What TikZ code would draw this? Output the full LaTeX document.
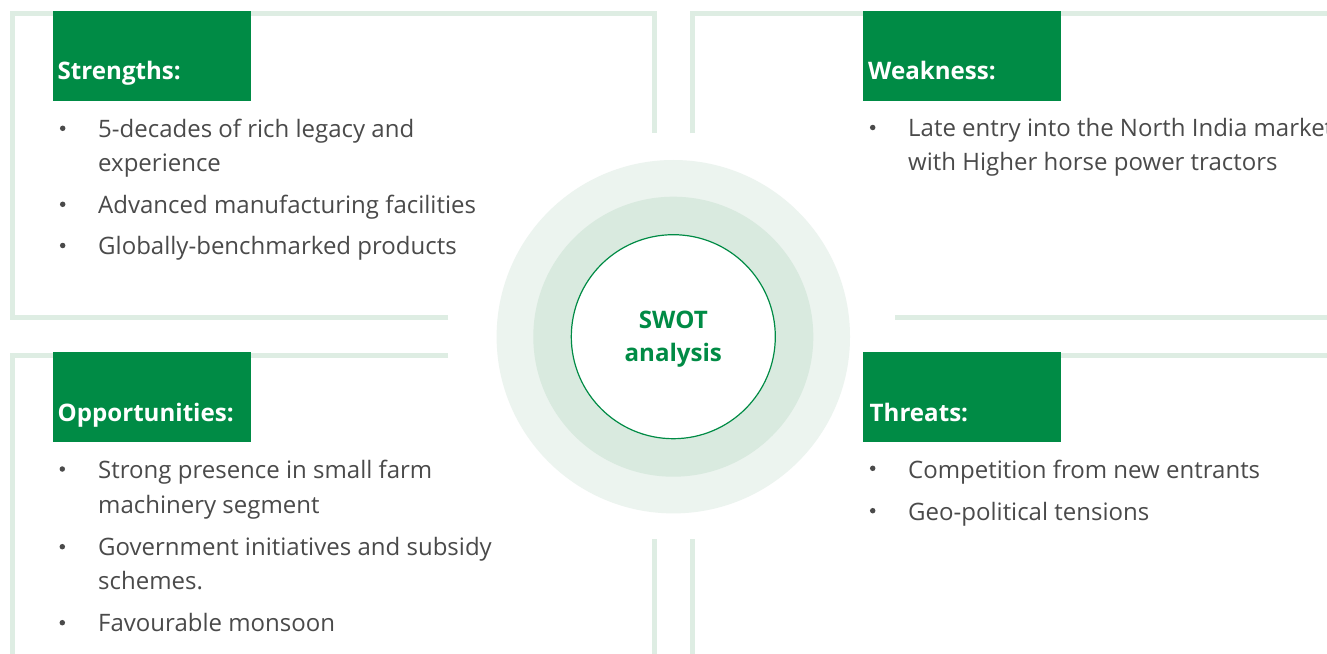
\documentclass[tikz,border=0pt]{standalone}
\usepackage{fontspec}
\setmainfont{Open Sans}
\definecolor{sgreen}{HTML}{008B45}
\definecolor{framec}{HTML}{DEEDE3}
\definecolor{ringa}{HTML}{ECF4EF}
\definecolor{ringb}{HTML}{D9EADF}
\definecolor{bodyc}{HTML}{4A4A4A}
\tikzset{
  framel/.style={draw=framec, line width=5bp},
  headbox/.style={fill=sgreen, minimum width=197.4bp, minimum height=89.7bp, anchor=north west, inner sep=0, outer sep=0},
  headtxt/.style={anchor=base west, inner sep=0, text=white, font=\fontsize{24.2}{28}\selectfont\bfseries},
  txt/.style={anchor=base west, inner sep=0, text=bodyc, font=\fontsize{24.1}{28}\selectfont},
  bul/.style={circle, fill=bodyc, inner sep=0, minimum size=5.5bp},
  swottxt/.style={anchor=base, inner sep=0, text=sgreen, font=\fontsize{24.2}{28}\selectfont\bfseries},
}
\begin{document}
\begin{tikzpicture}[x=1bp,y=-1bp]
\useasboundingbox[fill=white] (0,0) rectangle (1327,654);
% frames
\draw[framel] (448,317.5) -- (12.5,317.5) -- (12.5,13.5) -- (654.2,13.5) -- (654.2,133);
\draw[framel] (692.5,133) -- (692.5,13.5) -- (1340,13.5);
\draw[framel] (895,317.5) -- (1340,317.5);
\draw[framel] (448,355) -- (12.5,355) -- (12.5,670);
\draw[framel] (654.2,539) -- (654.2,670);
\draw[framel] (692.5,539) -- (692.5,670);
\draw[framel] (1000,355) -- (1340,355);
% center circles
\node[circle, fill=ringa, minimum size=353.4bp, inner sep=0] (ringA) at (673.3,336.7) {};
\node[circle, fill=ringb, minimum size=280bp, inner sep=0] (ringB) at (673.3,336.7) {};
\node[circle, fill=white, draw=sgreen, line width=1.2bp, minimum size=204bp, inner sep=0] (core) at (673.3,336.7) {};
\node[swottxt] (swot1) at (673.3,328.3) {SWOT};
\node[swottxt] (swot2) at (673.3,361.7) {analysis};
% headers
\node[headbox] (hS) at (53.3,11) {};
\node[headtxt] (tS) at (57.5,79.5) {Strengths:};
\node[headbox] (hW) at (863.3,11) {};
\node[headtxt] (tW) at (868,79.5) {Weakness:};
\node[headbox] (hO) at (53.3,352) {};
\node[headtxt] (tO) at (57.5,421.2) {Opportunities:};
\node[headbox] (hT) at (863.3,352) {};
\node[headtxt] (tT) at (869.5,421.2) {Threats:};
% strengths
\node[bul] (bS1) at (62.7,128.3) {};
\node[txt] (s1a) at (98,137.3) {5-decades of rich legacy and};
\node[txt] (s1b) at (98,171) {experience};
\node[bul] (bS2) at (62.7,204.3) {};
\node[txt] (s2) at (98,213.3) {Advanced manufacturing facilities};
\node[bul] (bS3) at (62.7,245.5) {};
\node[txt] (s3) at (98,254.5) {Globally-benchmarked products};
% weakness
\node[bul] (bW1) at (872.7,127.5) {};
\node[txt] (w1a) at (908,136.5) {Late entry into the North India market};
\node[txt] (w1b) at (908,170.5) {with Higher horse power tractors};
% opportunities
\node[bul] (bO1) at (62.3,469) {};
\node[txt] (o1a) at (98,478.3) {Strong presence in small farm};
\node[txt] (o1b) at (98,513) {machinery segment};
\node[bul] (bO2) at (62.3,546.7) {};
\node[txt] (o2a) at (98,555.5) {Government initiatives and subsidy};
\node[txt] (o2b) at (98,589.5) {schemes.};
\node[bul] (bO3) at (62.3,622.7) {};
\node[txt] (o3) at (98,631.7) {Favourable monsoon};
% threats
\node[bul] (bT1) at (872.7,468.3) {};
\node[txt] (t1) at (908,478.5) {Competition from new entrants};
\node[bul] (bT2) at (872.7,510.7) {};
\node[txt] (t2) at (908,520.5) {Geo-political tensions};
\end{tikzpicture}
\end{document}
